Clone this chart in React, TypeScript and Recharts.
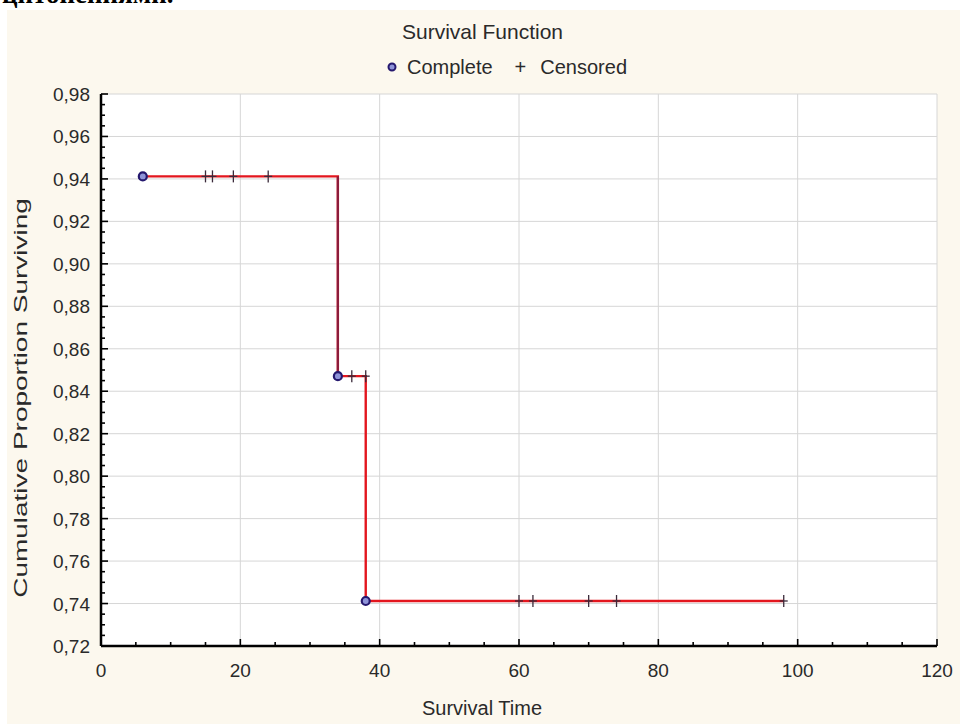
import React from "react";
import {
  ComposedChart,
  Line,
  Scatter,
  XAxis,
  YAxis,
  CartesianGrid,
  Label,
} from "recharts";

// ---- data ----
const stepTimes = [6, 34, 38, 98];
const stepSurvival = [0.9412, 0.8471, 0.7412, 0.7412];

const dropTimes = [34, 34];
const dropSurvival = [0.9412, 0.8471];

const completeTimes = [6, 34, 38];
const completeSurvival = [0.9412, 0.8471, 0.7412];

const censoredTimes = [15, 16, 19, 24, 36, 38, 60, 62, 70, 74, 98];
const censoredSurvival = [0.9412, 0.9412, 0.9412, 0.9412, 0.8471, 0.8471, 0.7412, 0.7412, 0.7412, 0.7412, 0.7412];

const xMajor = [0, 20, 40, 60, 80, 100, 120];
const xMinor = [5, 10, 15, 25, 30, 35, 45, 50, 55, 65, 70, 75, 85, 90, 95, 105, 110, 115];
const yMajor = [0.72, 0.74, 0.76, 0.78, 0.8, 0.82, 0.84, 0.86, 0.88, 0.9, 0.92, 0.94, 0.96, 0.98];
const yMinor = [
  0.725, 0.73, 0.735, 0.745, 0.75, 0.755, 0.765, 0.77, 0.775, 0.785, 0.79, 0.795,
  0.805, 0.81, 0.815, 0.825, 0.83, 0.835, 0.845, 0.85, 0.855, 0.865, 0.87, 0.875,
  0.885, 0.89, 0.895, 0.905, 0.91, 0.915, 0.925, 0.93, 0.935, 0.945, 0.95, 0.955,
  0.965, 0.97, 0.975,
];

const stepData = stepTimes.map((t, i) => ({ t, s: stepSurvival[i] }));
const dropData = dropTimes.map((t, i) => ({ t, s: dropSurvival[i] }));
const completeData = completeTimes.map((t, i) => ({ t, s: completeSurvival[i] }));
const censoredData = censoredTimes.map((t, i) => ({ t, s: censoredSurvival[i] }));

const xTicks = [...xMajor, ...xMinor].sort((a, b) => a - b);
const yTicks = [...yMajor, ...yMinor].sort((a, b) => a - b);

const FONT = "'Liberation Sans', Arial, sans-serif";
const TEXT = "#2a2a2a";
const isMajor = (arr: number[], v: number) => arr.some((m) => Math.abs(m - v) < 1e-9);
const fmtY = (v: number) => v.toFixed(2).replace(".", ",");

const BottomTick = (p: any) => {
  const major = isMajor(xMajor, p.payload.value);
  return (
    <g>
      <line x1={p.x} y1={p.y} x2={p.x} y2={p.y - (major ? 7 : 4)} stroke="#000" strokeWidth={1.6} />
      {major && (
        <text x={p.x} y={p.y + 31} textAnchor="middle" fontFamily={FONT} fontSize={19} fill={TEXT}>
          {p.payload.value}
        </text>
      )}
    </g>
  );
};
const TopTick = (p: any) => {
  const major = isMajor(xMajor, p.payload.value);
  return <line x1={p.x} y1={p.y} x2={p.x} y2={p.y + (major ? 7 : 4)} stroke="#000" strokeWidth={1.6} />;
};
const LeftTick = (p: any) => {
  const major = isMajor(yMajor, p.payload.value);
  return (
    <g>
      <line x1={p.x} y1={p.y} x2={p.x + (major ? 7 : 4)} y2={p.y} stroke="#000" strokeWidth={1.6} />
      {major && (
        <text x={p.x - 11} y={p.y + 7} textAnchor="end" fontFamily={FONT} fontSize={19} fill={TEXT}>
          {fmtY(p.payload.value)}
        </text>
      )}
    </g>
  );
};
const RightTick = (p: any) => {
  const major = isMajor(yMajor, p.payload.value);
  return <line x1={p.x} y1={p.y} x2={p.x - (major ? 7 : 4)} y2={p.y} stroke="#000" strokeWidth={1.6} />;
};

const CompleteShape = (p: any) => (
  <circle cx={p.cx} cy={p.cy} r={4} fill="#8e93d8" stroke="#25186e" strokeWidth={2.2} />
);
const CensoredShape = (p: any) => (
  <g stroke="#3a2a3a" strokeWidth={1.3}>
    <line x1={p.cx - 4} y1={p.cy} x2={p.cx + 4} y2={p.cy} />
    <line x1={p.cx} y1={p.cy - 6} x2={p.cx} y2={p.cy + 6} />
  </g>
);

const vGen = ({ xAxis, offset }: any) => {
  if (xAxis && typeof xAxis.scale === "function") return xMajor.map((v) => xAxis.scale(v));
  return xMajor.map((v) => offset.left + (v / 120) * offset.width);
};
const hGen = ({ yAxis, offset }: any) => {
  if (yAxis && typeof yAxis.scale === "function") return yMajor.map((v) => yAxis.scale(v));
  return yMajor.map((v) => offset.top + ((0.98 - v) / 0.26) * offset.height);
};

export default function App() {
  return (
    <div style={{ position: "absolute", left: 0, top: 0, width: 965, height: 724, background: "#fff", overflow: "hidden" }}>
      <div
        style={{
          position: "absolute",
          left: 2,
          top: -19,
          fontFamily: "'Liberation Serif', 'Times New Roman', serif",
          fontWeight: "bold",
          fontSize: 27,
          lineHeight: "27px",
          color: "#000",
          whiteSpace: "nowrap",
        }}
      >
        цитопениями.
      </div>
      <div style={{ position: "absolute", left: 7, top: 10, width: 953, height: 714, background: "#fcf8ee" }} />
      <div
        style={{
          position: "absolute",
          left: 0,
          top: 19,
          width: 965,
          textAlign: "center",
          fontFamily: FONT,
          fontSize: 21,
          lineHeight: "26px",
          color: TEXT,
        }}
      >
        Survival Function
      </div>
      <div
        style={{
          position: "absolute",
          left: 386,
          top: 54,
          display: "flex",
          alignItems: "center",
          fontFamily: FONT,
          fontSize: 20,
          lineHeight: "26px",
          color: TEXT,
          whiteSpace: "nowrap",
        }}
      >
        <svg width={12} height={12} style={{ marginRight: 9 }}>
          <circle cx={6} cy={6} r={3.5} fill="#8e93d8" stroke="#25186e" strokeWidth={2} />
        </svg>
        <span>Complete</span>
        <span style={{ marginLeft: 22, marginRight: 14 }}>+</span>
        <span>Censored</span>
      </div>
      <div style={{ position: "absolute", left: 0, top: 0 }}>
        <ComposedChart width={965} height={724} margin={{ top: 94, right: 28, bottom: 0, left: 0 }}>
          <CartesianGrid
            fill="#ffffff"
            stroke="#d6d6d6"
            strokeWidth={1}
            verticalCoordinatesGenerator={vGen}
            horizontalCoordinatesGenerator={hGen}
          />
          <XAxis
            dataKey="t"
            type="number"
            domain={[0, 120]}
            ticks={xTicks}
            interval={0}
            tickSize={0}
            tickMargin={0}
            height={78}
            axisLine={{ stroke: "#000", strokeWidth: 2.5 }}
            tickLine={false}
            tick={BottomTick}
            allowDataOverflow
          >
            <Label
              content={(props: any) => {
                const vb = props.viewBox;
                return (
                  <text x={482} y={vb.y + 69} textAnchor="middle" fontFamily={FONT} fontSize={20} fill={TEXT}>
                    Survival Time
                  </text>
                );
              }}
            />
          </XAxis>
          <XAxis
            xAxisId="top"
            orientation="top"
            type="number"
            domain={[0, 120]}
            ticks={xTicks}
            interval={0}
            tickSize={0}
            tickMargin={0}
            height={0}
            axisLine={{ stroke: "#000", strokeWidth: 2.5 }}
            tickLine={false}
            tick={TopTick}
            allowDataOverflow
          />
          <YAxis
            type="number"
            domain={[0.72, 0.98]}
            ticks={yTicks}
            interval={0}
            tickSize={0}
            tickMargin={0}
            width={101}
            axisLine={{ stroke: "#000", strokeWidth: 2.5 }}
            tickLine={false}
            tick={LeftTick}
            allowDataOverflow
          >
            <Label
              content={() => {
                const cx = 27;
                const cy = 398;
                return (
                  <text
                    x={0}
                    y={0}
                    transform={`translate(${cx} ${cy}) rotate(-90) scale(1.6 1)`}
                    textAnchor="middle"
                    fontFamily={FONT}
                    fontSize={17.5}
                    fill={TEXT}
                  >
                    Cumulative Proportion Surviving
                  </text>
                );
              }}
            />
          </YAxis>
          <YAxis
            yAxisId="right"
            orientation="right"
            type="number"
            domain={[0.72, 0.98]}
            ticks={yTicks}
            interval={0}
            tickSize={0}
            tickMargin={0}
            width={0}
            axisLine={{ stroke: "#000", strokeWidth: 2.5 }}
            tickLine={false}
            tick={RightTick}
            allowDataOverflow
          />
          <Line
            data={stepData}
            dataKey="s"
            type="stepAfter"
            stroke="#e3161e"
            strokeWidth={2.4}
            dot={false}
            activeDot={false}
            isAnimationActive={false}
          />
          <Line
            data={dropData}
            dataKey="s"
            type="linear"
            stroke="#8a1c3c"
            strokeWidth={2.2}
            dot={false}
            activeDot={false}
            isAnimationActive={false}
          />
          <Scatter data={censoredData} dataKey="s" shape={CensoredShape} isAnimationActive={false} />
          <Scatter data={completeData} dataKey="s" shape={CompleteShape} isAnimationActive={false} />
        </ComposedChart>
      </div>
    </div>
  );
}
